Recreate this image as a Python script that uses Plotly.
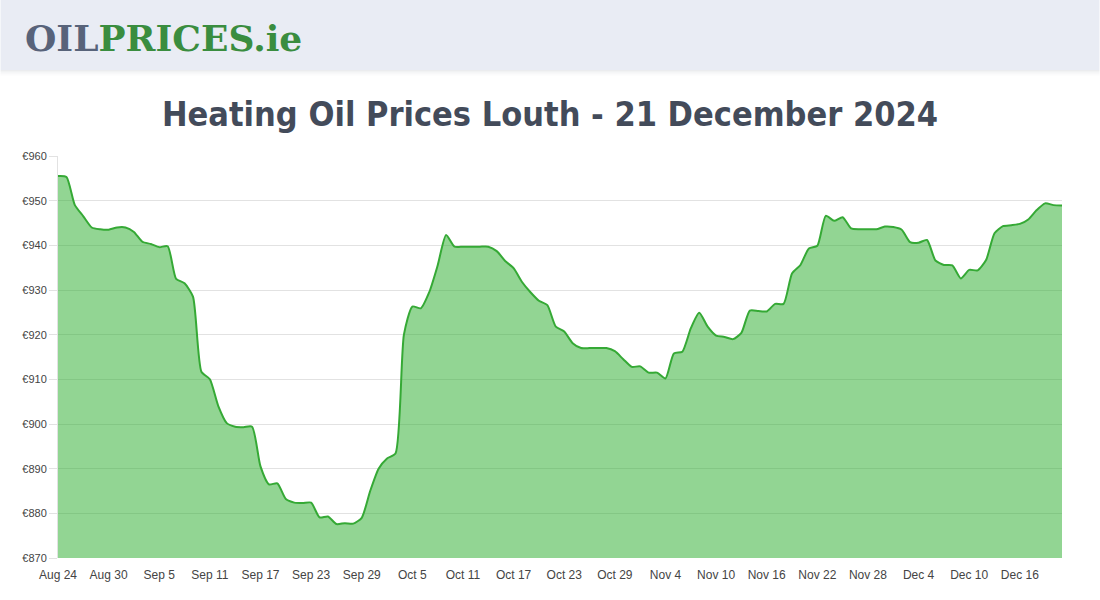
import plotly.graph_objects as go
import pandas as pd

start_date = "2024-08-24"
n_days = 120
dates = pd.date_range(start_date, periods=n_days, freq="D")

prices = [
    955.5, 955.3, 949.0, 946.5, 944.0, 943.6, 943.5, 944.0, 944.0, 943.0,
    940.8, 940.3, 939.6, 939.8, 932.5, 931.5, 928.5, 911.7, 910.0, 904.0,
    900.2, 899.4, 899.3, 899.4, 890.5, 886.5, 886.7, 883.2, 882.4, 882.3,
    882.4, 879.1, 879.3, 877.6, 877.8, 877.7, 879.0, 885.0, 890.0, 892.3,
    893.4, 920.0, 926.3, 925.9, 929.5, 935.5, 942.3, 939.7, 939.7, 939.7,
    939.7, 939.7, 938.7, 936.5, 934.9, 931.8, 929.5, 927.6, 926.6, 921.8,
    920.7, 918.1, 917.0, 917.0, 917.0, 917.0, 916.3, 914.5, 912.8, 912.9,
    911.5, 911.5, 910.2, 915.8, 916.2, 921.4, 924.9, 921.8, 919.8, 919.5,
    919.0, 920.4, 925.4, 925.3, 925.2, 926.9, 926.9, 933.7, 935.6, 939.3,
    939.9, 946.6, 945.5, 946.3, 943.8, 943.6, 943.6, 943.6, 944.2, 944.1,
    943.5, 940.7, 940.6, 941.2, 936.6, 935.6, 935.5, 932.6, 934.5, 934.4,
    936.7, 942.7, 944.3, 944.5, 944.8, 945.8, 947.9, 949.4, 949.0, 948.9,
]

x_tick_labels = ["Aug 24", "Aug 30", "Sep 5", "Sep 11", "Sep 17", "Sep 23", "Sep 29",
                 "Oct 5", "Oct 11", "Oct 17", "Oct 23", "Oct 29", "Nov 4", "Nov 10",
                 "Nov 16", "Nov 22", "Nov 28", "Dec 4", "Dec 10", "Dec 16"]
x_tick_dates = [dates[i * 6] for i in range(len(x_tick_labels))]
y_tick_values = [870, 880, 890, 900, 910, 920, 930, 940, 950, 960]
y_tick_labels = ["€%d" % v for v in y_tick_values]

title_text = "Heating Oil Prices Louth - 21 December 2024"

W, H = 1100, 600
L, R, T, B = 57.5, 37.5, 156, 42
pw, ph = W - L - R, H - T - B

def px_x(x):
    return (x - L) / pw

def px_y(y):
    return (H - B - y) / ph

fig = go.Figure()
fig.add_trace(go.Scatter(
    x=dates, y=prices, mode="lines",
    line=dict(color="#35a935", width=2, shape="spline", smoothing=0.6),
    fill="tozeroy", fillcolor="rgba(37,171,39,0.5)",
    hoverinfo="skip", showlegend=False,
))

shapes = []
for i, a in enumerate([0.10, 0.07, 0.05, 0.035, 0.02, 0.01]):
    shapes.append(dict(type="rect", xref="paper", yref="paper",
                       x0=px_x(0), x1=px_x(W), y0=px_y(70 + i + 1), y1=px_y(70 + i),
                       fillcolor="rgba(60,70,90,%f)" % a, line=dict(width=0), layer="above"))
shapes.append(dict(type="rect", xref="paper", yref="paper",
                   x0=px_x(0), x1=px_x(W), y0=px_y(70), y1=px_y(0),
                   fillcolor="#e9ecf4", line=dict(width=0), layer="above"))

annotations = [
    dict(xref="paper", yref="paper", x=px_x(22), y=px_y(38), xanchor="left", yanchor="middle",
         showarrow=False,
         text="<b><span style='color:#58637a'>OIL</span><span style='color:#3a8d3f'>PRICES.ie</span></b>",
         font=dict(family="DejaVu Serif", size=36, weight="bold")),
    dict(xref="paper", yref="paper", x=px_x(550), y=px_y(114), xanchor="center", yanchor="middle",
         showarrow=False, text="<b>" + title_text + "</b>",
         font=dict(family="DejaVu Sans Condensed, Liberation Sans, sans-serif", size=34, color="#434b5a")),
]

fig.update_layout(
    width=W, height=H,
    margin=dict(l=L, r=R, t=T, b=B, pad=0),
    paper_bgcolor="white", plot_bgcolor="white",
    shapes=shapes, annotations=annotations,
    xaxis=dict(
        range=[dates[0], dates[-1]],
        tickvals=x_tick_dates, ticktext=x_tick_labels,
        showgrid=False, zeroline=False, showline=False,
        ticks="", tickfont=dict(family="Liberation Sans, Arial", size=12, color="#444"),
        ticklabelstandoff=8,
    ),
    yaxis=dict(
        range=[870, 960],
        tickvals=y_tick_values, ticktext=y_tick_labels,
        showgrid=True, gridcolor="#e2e2e2", gridwidth=1,
        zeroline=False, showline=True, linecolor="#e2e2e2", linewidth=1,
        ticks="outside", ticklen=8, tickcolor="#e2e2e2",
        tickfont=dict(family="Liberation Sans, Arial", size=11, color="#444"),
    ),
)

fig.write_html("out.html", config={"displayModeBar": False},
               post_script="document.body.style.margin='0';document.body.style.overflow='hidden';")
